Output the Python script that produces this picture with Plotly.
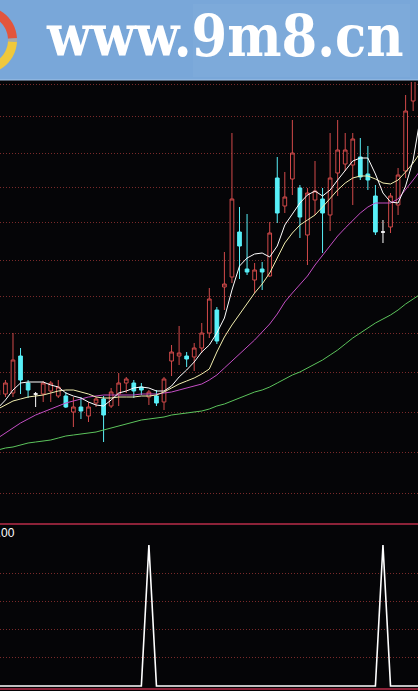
import numpy as np
import pandas as pd
import plotly.graph_objects as go

W, H = 418, 691

# ------------------------------------------------------ #
#                  data             #
# ------------------------------------------------------ #
opens = [9.00, 9.02, 9.04, 9.78, 9.24, 9.02, 9.02, 9.08, 8.98, 8.98,
         8.66, 8.76, 8.58, 8.84, 8.92, 8.78, 9.02, 9.24, 9.24, 9.16,
         8.96, 8.98, 8.86, 9.68, 9.78, 9.78, 9.76, 9.94, 10.24, 10.70,
         11.16, 11.36, 12.26, 11.52, 11.30, 11.52, 11.38, 13.34, 12.78, 13.32,
         13.14, 12.20, 12.90, 12.92, 12.60, 13.44, 13.62, 13.60, 13.76, 13.42,
         12.98, 12.26, 12.36, 12.80, 13.48, 14.88]
highs = [9.14, 9.30, 10.24, 9.94, 9.30, 9.06, 9.28, 9.28, 9.30, 9.06,
         8.96, 8.96, 8.86, 8.96, 8.98, 9.14, 9.44, 9.36, 9.30, 9.24,
         9.10, 9.10, 9.36, 10.00, 10.38, 9.86, 10.04, 10.44, 11.14, 10.76,
         11.86, 14.24, 12.76, 12.62, 11.64, 11.66, 12.46, 13.76, 13.46, 14.50,
         13.20, 13.14, 13.68, 13.14, 14.24, 14.50, 14.24, 14.24, 14.14, 13.98,
         13.20, 12.50, 13.04, 13.54, 15.00, 15.60]
lows = [8.96, 8.96, 8.96, 9.02, 8.94, 8.76, 8.86, 8.86, 8.94, 8.74,
        8.36, 8.52, 8.46, 8.76, 8.06, 8.74, 8.78, 9.04, 8.94, 9.00,
        8.80, 8.78, 8.70, 9.38, 9.60, 9.56, 9.48, 9.84, 10.14, 10.02,
        10.70, 11.24, 11.32, 11.40, 11.04, 11.10, 11.36, 12.44, 12.64, 13.00,
        12.14, 11.60, 12.60, 11.84, 12.28, 12.98, 13.48, 12.80, 13.30, 13.10,
        12.20, 12.04, 12.24, 12.60, 13.34, 14.68]
closes = [9.10, 9.24, 9.70, 9.30, 9.10, 9.02, 9.24, 9.24, 9.16, 8.76,
          8.76, 8.68, 8.76, 8.92, 8.60, 9.06, 9.24, 9.32, 9.08, 9.10,
          9.06, 8.84, 9.32, 9.86, 9.84, 9.72, 9.94, 10.24, 10.92, 10.08,
          11.22, 12.92, 11.98, 11.46, 11.50, 11.46, 12.24, 12.64, 12.96, 13.84,
          12.56, 13.04, 13.08, 12.64, 13.34, 13.90, 13.90, 14.12, 13.36, 13.30,
          12.26, 12.26, 12.98, 13.40, 14.68, 15.46]

ma5 = [8.74, 8.90, 9.10, 9.24, 9.26, 9.26, 9.26, 9.20, 9.16, 9.04,
       8.98, 8.94, 8.86, 8.80, 8.78, 8.90, 9.04, 9.08, 9.14, 9.16,
       9.14, 9.08, 9.08, 9.18, 9.36, 9.50, 9.66, 9.86, 10.00, 10.24,
       10.54, 11.10, 11.58, 11.74, 11.82, 11.84, 11.76, 11.98, 12.40, 12.62,
       12.84, 13.00, 13.08, 12.98, 13.10, 13.30, 13.50, 13.68, 13.74, 13.74,
       13.42, 13.04, 12.86, 12.84, 13.18, 13.70, 14.60]
ma10 = [8.72, 8.80, 8.88, 8.92, 8.96, 8.98, 9.00, 9.04, 9.08, 9.10,
        9.10, 9.06, 9.02, 8.96, 8.94, 8.94, 8.96, 8.96, 8.96, 8.98,
        8.98, 9.00, 9.06, 9.14, 9.22, 9.28, 9.34, 9.42, 9.52, 9.86,
        10.16, 10.40, 10.62, 10.84, 11.04, 11.22, 11.44, 11.74, 12.04, 12.24,
        12.40, 12.50, 12.60, 12.76, 12.94, 13.10, 13.24, 13.34, 13.38, 13.38,
        13.32, 13.24, 13.22, 13.30, 13.46, 13.64, 13.86]
ma20 = [8.14, 8.24, 8.34, 8.44, 8.52, 8.60, 8.66, 8.72, 8.78, 8.84,
        8.88, 8.92, 8.96, 8.98, 9.00, 9.00, 9.00, 9.00, 9.00, 9.02,
        9.02, 9.02, 9.04, 9.06, 9.10, 9.14, 9.18, 9.22, 9.30, 9.40,
        9.54, 9.68, 9.82, 9.94, 10.10, 10.26, 10.42, 10.62, 10.86, 11.04,
        11.20, 11.38, 11.60, 11.80, 11.98, 12.18, 12.34, 12.50, 12.64, 12.76,
        12.84, 12.84, 12.84, 12.92, 13.10, 13.30, 13.50]
ma60 = [7.90, 7.94, 7.96, 8.00, 8.04, 8.06, 8.08, 8.10, 8.14, 8.18,
        8.20, 8.22, 8.24, 8.26, 8.30, 8.34, 8.38, 8.42, 8.46, 8.50,
        8.52, 8.54, 8.56, 8.60, 8.62, 8.64, 8.66, 8.68, 8.72, 8.78,
        8.82, 8.88, 8.94, 9.00, 9.06, 9.10, 9.16, 9.24, 9.32, 9.40,
        9.46, 9.54, 9.62, 9.70, 9.80, 9.90, 10.02, 10.14, 10.24, 10.34,
        10.44, 10.52, 10.60, 10.70, 10.82, 10.92, 11.02]

signal = [0, 0, 0, 0, 0, 0, 0, 0, 0, 0,
          0, 0, 0, 0, 0, 0, 0, 0, 0, 0,
          1, 0, 0, 0, 0, 0, 0, 0, 0, 0,
          0, 0, 0, 0, 0, 0, 0, 0, 0, 0,
          0, 0, 0, 0, 0, 0, 0, 0, 0, 0,
          0, 1, 0, 0, 0, 0, 0]

# price levels of the dotted grid
grid_main = [15.22, 14.58, 13.84, 13.16, 12.46, 11.70, 10.98, 10.24, 9.46, 8.66, 7.86, 7.04]
grid_sub = [0.2, 0.4, 0.6, 0.8]

# ------------------------------------------------------ #
#                       styles                           #
# ------------------------------------------------------ #
BG = "#050507"
RED = "#d24a4a"
CYAN = "#58f0f8"
GRID = "#7a2a2a"
SEP = "#8c2238"


def py(pix):
    """pixel row -> paper y"""
    return 1 - pix / H


df = pd.DataFrame(dict(open=opens, high=highs, low=lows, close=closes))
df["day"] = range(len(df))

fig = go.Figure()

# candles: hollow red up, solid cyan down, white flat
groups = [
    (df[df.close > df.open], RED, BG),
    (df[df.close < df.open], CYAN, CYAN),
    (df[df.close == df.open], "#ffffff", "#ffffff"),
]
for part, line_c, fill_c in groups:
    fig.add_trace(go.Candlestick(
        x=part.day, open=part.open, high=part.high, low=part.low, close=part.close,
        increasing=dict(line=dict(color=line_c, width=1), fillcolor=fill_c),
        decreasing=dict(line=dict(color=line_c, width=1), fillcolor=fill_c),
        hoverinfo="none", showlegend=False,
    ))

# moving averages
for vals, col in [(ma60, "#5cc45c"), (ma20, "#c44ec4"), (ma10, "#f2eeae"), (ma5, "#ffffff")]:
    fig.add_trace(go.Scatter(
        x=list(range(len(vals))), y=vals, mode="lines",
        line=dict(color=col, width=1), hoverinfo="none", showlegend=False,
    ))

# lower indicator
fig.add_trace(go.Scatter(
    x=list(range(len(signal))), y=signal, mode="lines",
    line=dict(color="#ffffff", width=1.6), xaxis="x", yaxis="y2",
    hoverinfo="none", showlegend=False,
))

# ------------------------------------------------------ #
#                  banner / decorations                  #
# ------------------------------------------------------ #
shapes = [
    dict(type="line", xref="paper", yref="paper", x0=0, x1=1, y0=py(524), y1=py(524),
         line=dict(color=SEP, width=2)),
    dict(type="line", xref="paper", yref="paper", x0=0, x1=1, y0=py(689), y1=py(689),
         line=dict(color=SEP, width=2)),
    dict(type="rect", xref="paper", yref="paper", x0=0, x1=1, y0=py(80), y1=1,
         fillcolor="#79a7d9", line_width=0, layer="above"),
    dict(type="rect", xref="paper", yref="paper", x0=193 / W, x1=410 / W, y0=py(77), y1=py(4),
         fillcolor="rgba(255,255,255,0.035)", line_width=0, layer="above"),
    dict(type="line", xref="paper", yref="paper", x0=0, x1=1, y0=py(80), y1=py(80),
         line=dict(color="#a3c2e6", width=1), layer="above"),
]


def ring_path(a0, a1, cx=-17, cy=40, r_out=34, r_in=25):
    t = np.radians(np.linspace(a0, a1, 40))
    outer = [(cx + r_out * np.cos(a), cy - r_out * np.sin(a)) for a in t]
    inner = [(cx + r_in * np.cos(a), cy - r_in * np.sin(a)) for a in t[::-1]]
    pts = outer + inner
    return "M " + " L ".join(f"{x / W:.5f},{py(y):.5f}" for x, y in pts) + " Z"


for a0, a1, col in [(3, 95, "#e2553c"), (-95, -3, "#f0c83c"), (-3, 3, "#a8a8a8")]:
    shapes.append(dict(type="path", xref="paper", yref="paper", path=ring_path(a0, a1),
                       fillcolor=col, line_width=0, layer="above"))

annotations = [
    dict(text="www.9m8.cn", x=225 / W, y=py(35), xref="paper", yref="paper",
         xanchor="center", yanchor="middle", showarrow=False,
         font=dict(family="DejaVu Serif Condensed, DejaVu Serif", size=57,
                   color="#ffffff", weight="bold")),
    dict(text="1.00", x=17 / W, y=py(533), xref="paper", yref="paper",
         xanchor="right", yanchor="middle", showarrow=False,
         font=dict(family="Liberation Sans, Arial", size=12, color="#ffffff")),
]

axis_common = dict(showticklabels=False, zeroline=False, showline=False,
                   gridcolor=GRID, gridwidth=1, griddash="1px,2px", tickmode="array")

fig.update_layout(
    width=W, height=H,
    margin=dict(l=0, r=0, t=0, b=0),
    paper_bgcolor=BG, plot_bgcolor=BG,
    showlegend=False,
    xaxis=dict(domain=[0, 1], range=[0.28, 55.64], showgrid=False, zeroline=False,
               showticklabels=False, showline=False, rangeslider=dict(visible=False)),
    yaxis=dict(domain=[py(522), py(82)], range=[6.46, 15.26], tickvals=grid_main, **axis_common),
    yaxis2=dict(domain=[py(688), py(524)], range=[-0.0142, 1.149], tickvals=grid_sub,
                anchor="x", **axis_common),
    shapes=shapes,
    annotations=annotations,
)

# page body has a default margin; drop it so the figure sits at (0, 0)
fig.write_html("out.html", config={"displayModeBar": False},
               post_script="document.body.style.margin='0';document.body.style.overflow='hidden';")
